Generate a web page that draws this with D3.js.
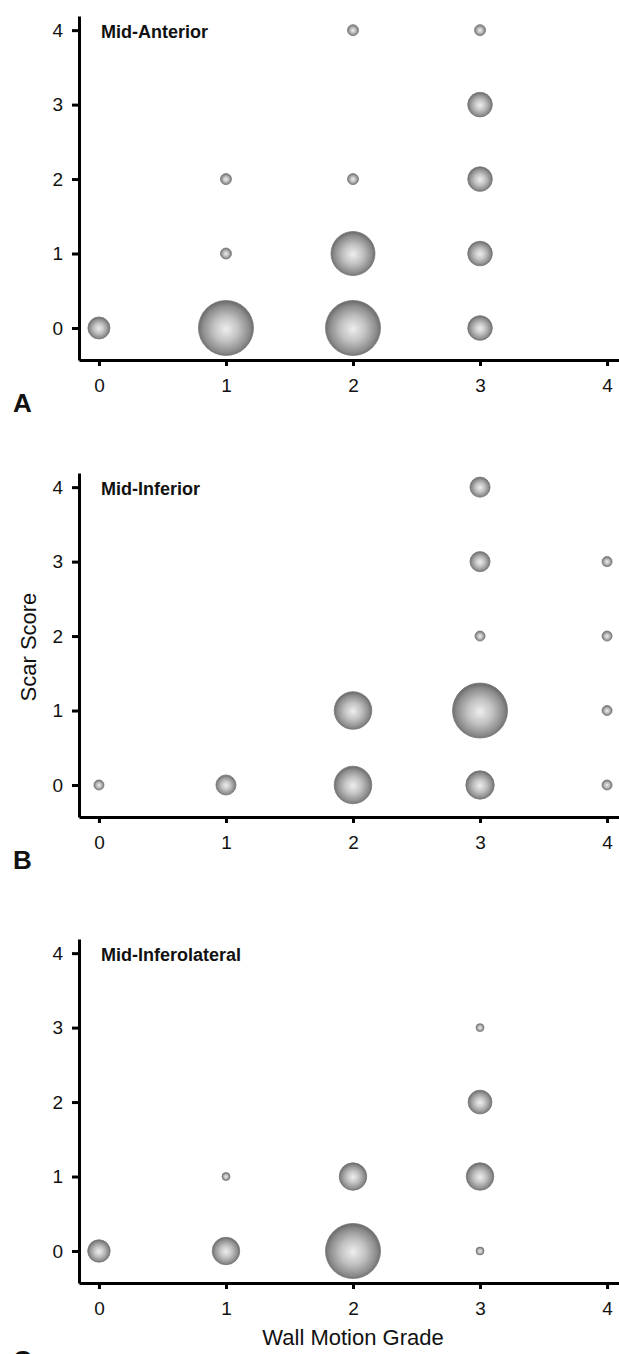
<!DOCTYPE html>
<html>
<head>
<meta charset="utf-8">
<script src="https://cdn.jsdelivr.net/npm/d3@7"></script>
<style>
  body { margin: 0; background: #fff; }
  text { font-family: "Liberation Sans", Arial, sans-serif; fill: #111; }
</style>
</head>
<body>
<div id="container"><svg></svg></div>
<script>
const width = 619;
const height = 1354;

const tickValues = [0, 1, 2, 3, 4];
const panelNames = ["Mid-Anterior", "Mid-Inferior", "Mid-Inferolateral"];
const panelLetters = ["A", "B", "C"];

// Mid-Anterior: wall motion grade, scar score, number of segments
const anteriorGrade = [0, 1, 1, 1, 2, 2, 2, 2, 3, 3, 3, 3, 3];
const anteriorScar  = [0, 0, 1, 2, 0, 1, 2, 4, 0, 1, 2, 3, 4];
const anteriorCount = [4, 25, 1, 1, 25, 16, 1, 1, 5, 5, 5, 5, 1];

// Mid-Inferior
const inferiorGrade = [0, 1, 2, 2, 3, 3, 3, 3, 3, 4, 4, 4, 4];
const inferiorScar  = [0, 0, 0, 1, 0, 1, 2, 3, 4, 0, 1, 2, 3];
const inferiorCount = [1, 4, 14, 14, 8, 30, 1, 4, 4, 1, 1, 1, 1];

// Mid-Inferolateral
const inferolatGrade = [0, 1, 1, 2, 2, 3, 3, 3, 3];
const inferolatScar  = [0, 0, 1, 0, 1, 0, 1, 2, 3];
const inferolatCount = [8, 12, 1, 48, 12, 1, 12, 9, 1];

let panels = [
  { grade: anteriorGrade, scar: anteriorScar, count: anteriorCount, off: 0 },
  { grade: inferiorGrade, scar: inferiorScar, count: inferiorCount, off: 457 },
  { grade: inferolatGrade, scar: inferolatScar, count: inferolatCount, off: 923 }
];

let svg = d3.select('#container').select('svg')
    .attr('width', width)
    .attr('height', height);

// shaded ball look
let grad = svg.append("defs").append("radialGradient")
    .attr("id", "ball")
    .attr("cx", "50%").attr("cy", "52%").attr("r", "50%");
grad.append("stop").attr("offset", "0%").attr("stop-color", "#eeeeee");
grad.append("stop").attr("offset", "45%").attr("stop-color", "#c2c2c2");
grad.append("stop").attr("offset", "85%").attr("stop-color", "#8c8c8c");
grad.append("stop").attr("offset", "100%").attr("stop-color", "#6e6e6e");

let x = d3.scaleLinear().domain([-0.157, 4.094]).range([79, 619]);

panels.forEach(function (p, i) {
  let y = d3.scaleLinear().domain([-0.43, 4.19]).range([360 + p.off, 16 + p.off]);
  let r = d3.scaleSqrt().domain([0, d3.max(p.count)]).range([0, 27.5]);
  let g = svg.append("g");

  let pts = p.grade.map((d, k) => ({ grade: d, scar: p.scar[k], count: p.count[k] }));

  g.append("g")
    .selectAll("circle")
    .data(pts)
    .join("circle")
    .attr("cx", d => x(d.grade))
    .attr("cy", d => y(d.scar))
    .attr("r", d => r(d.count))
    .attr("fill", "url(#ball)")
    .attr("stroke", "#787878")
    .attr("stroke-width", 0.8);

  let yAxis = g.append("g")
    .attr("transform", "translate(79,0)")
    .call(d3.axisLeft(y).tickValues(tickValues).tickFormat(d3.format("d"))
      .tickSize(7).tickSizeOuter(0).tickPadding(9));

  let xAxis = g.append("g")
    .attr("transform", `translate(0,${360 + p.off})`)
    .call(d3.axisBottom(x).tickValues(tickValues).tickFormat(d3.format("d"))
      .tickSize(6).tickSizeOuter(0).tickPadding(13));

  [yAxis, xAxis].forEach(a => {
    a.select(".domain").attr("stroke", "#000").attr("stroke-width", 3);
    a.selectAll(".tick line").attr("stroke", "#000").attr("stroke-width", 3);
    a.selectAll(".tick text")
      .attr("fill", "#111")
      .style("font-size", "19px")
      .style("font-family", '"Liberation Sans", Arial, sans-serif');
  });

  // panel title
  g.append("text")
    .attr("x", 101)
    .attr("y", 38 + p.off)
    .style("font-size", "18px")
    .style("font-weight", "bold")
    .text(panelNames[i]);

  // panel letter (C sits at the bottom edge, mostly cut off as in the figure)
  g.append("text")
    .attr("x", 13)
    .attr("y", i == 2 ? 1369 : 412 + p.off)
    .style("font-size", "26px")
    .style("font-weight", "bold")
    .text(panelLetters[i]);

  if (i == 1) {
    g.append("text")
      .attr("transform", `translate(36,${y(2) + 11}) rotate(-90)`)
      .attr("text-anchor", "middle")
      .style("font-size", "22px")
      .text("Scar Score");
  }
  if (i == 2) {
    g.append("text")
      .attr("x", x(2))
      .attr("y", 360 + p.off + 62)
      .attr("text-anchor", "middle")
      .style("font-size", "22px")
      .text("Wall Motion Grade");
  }
});
</script>
</body>
</html>
